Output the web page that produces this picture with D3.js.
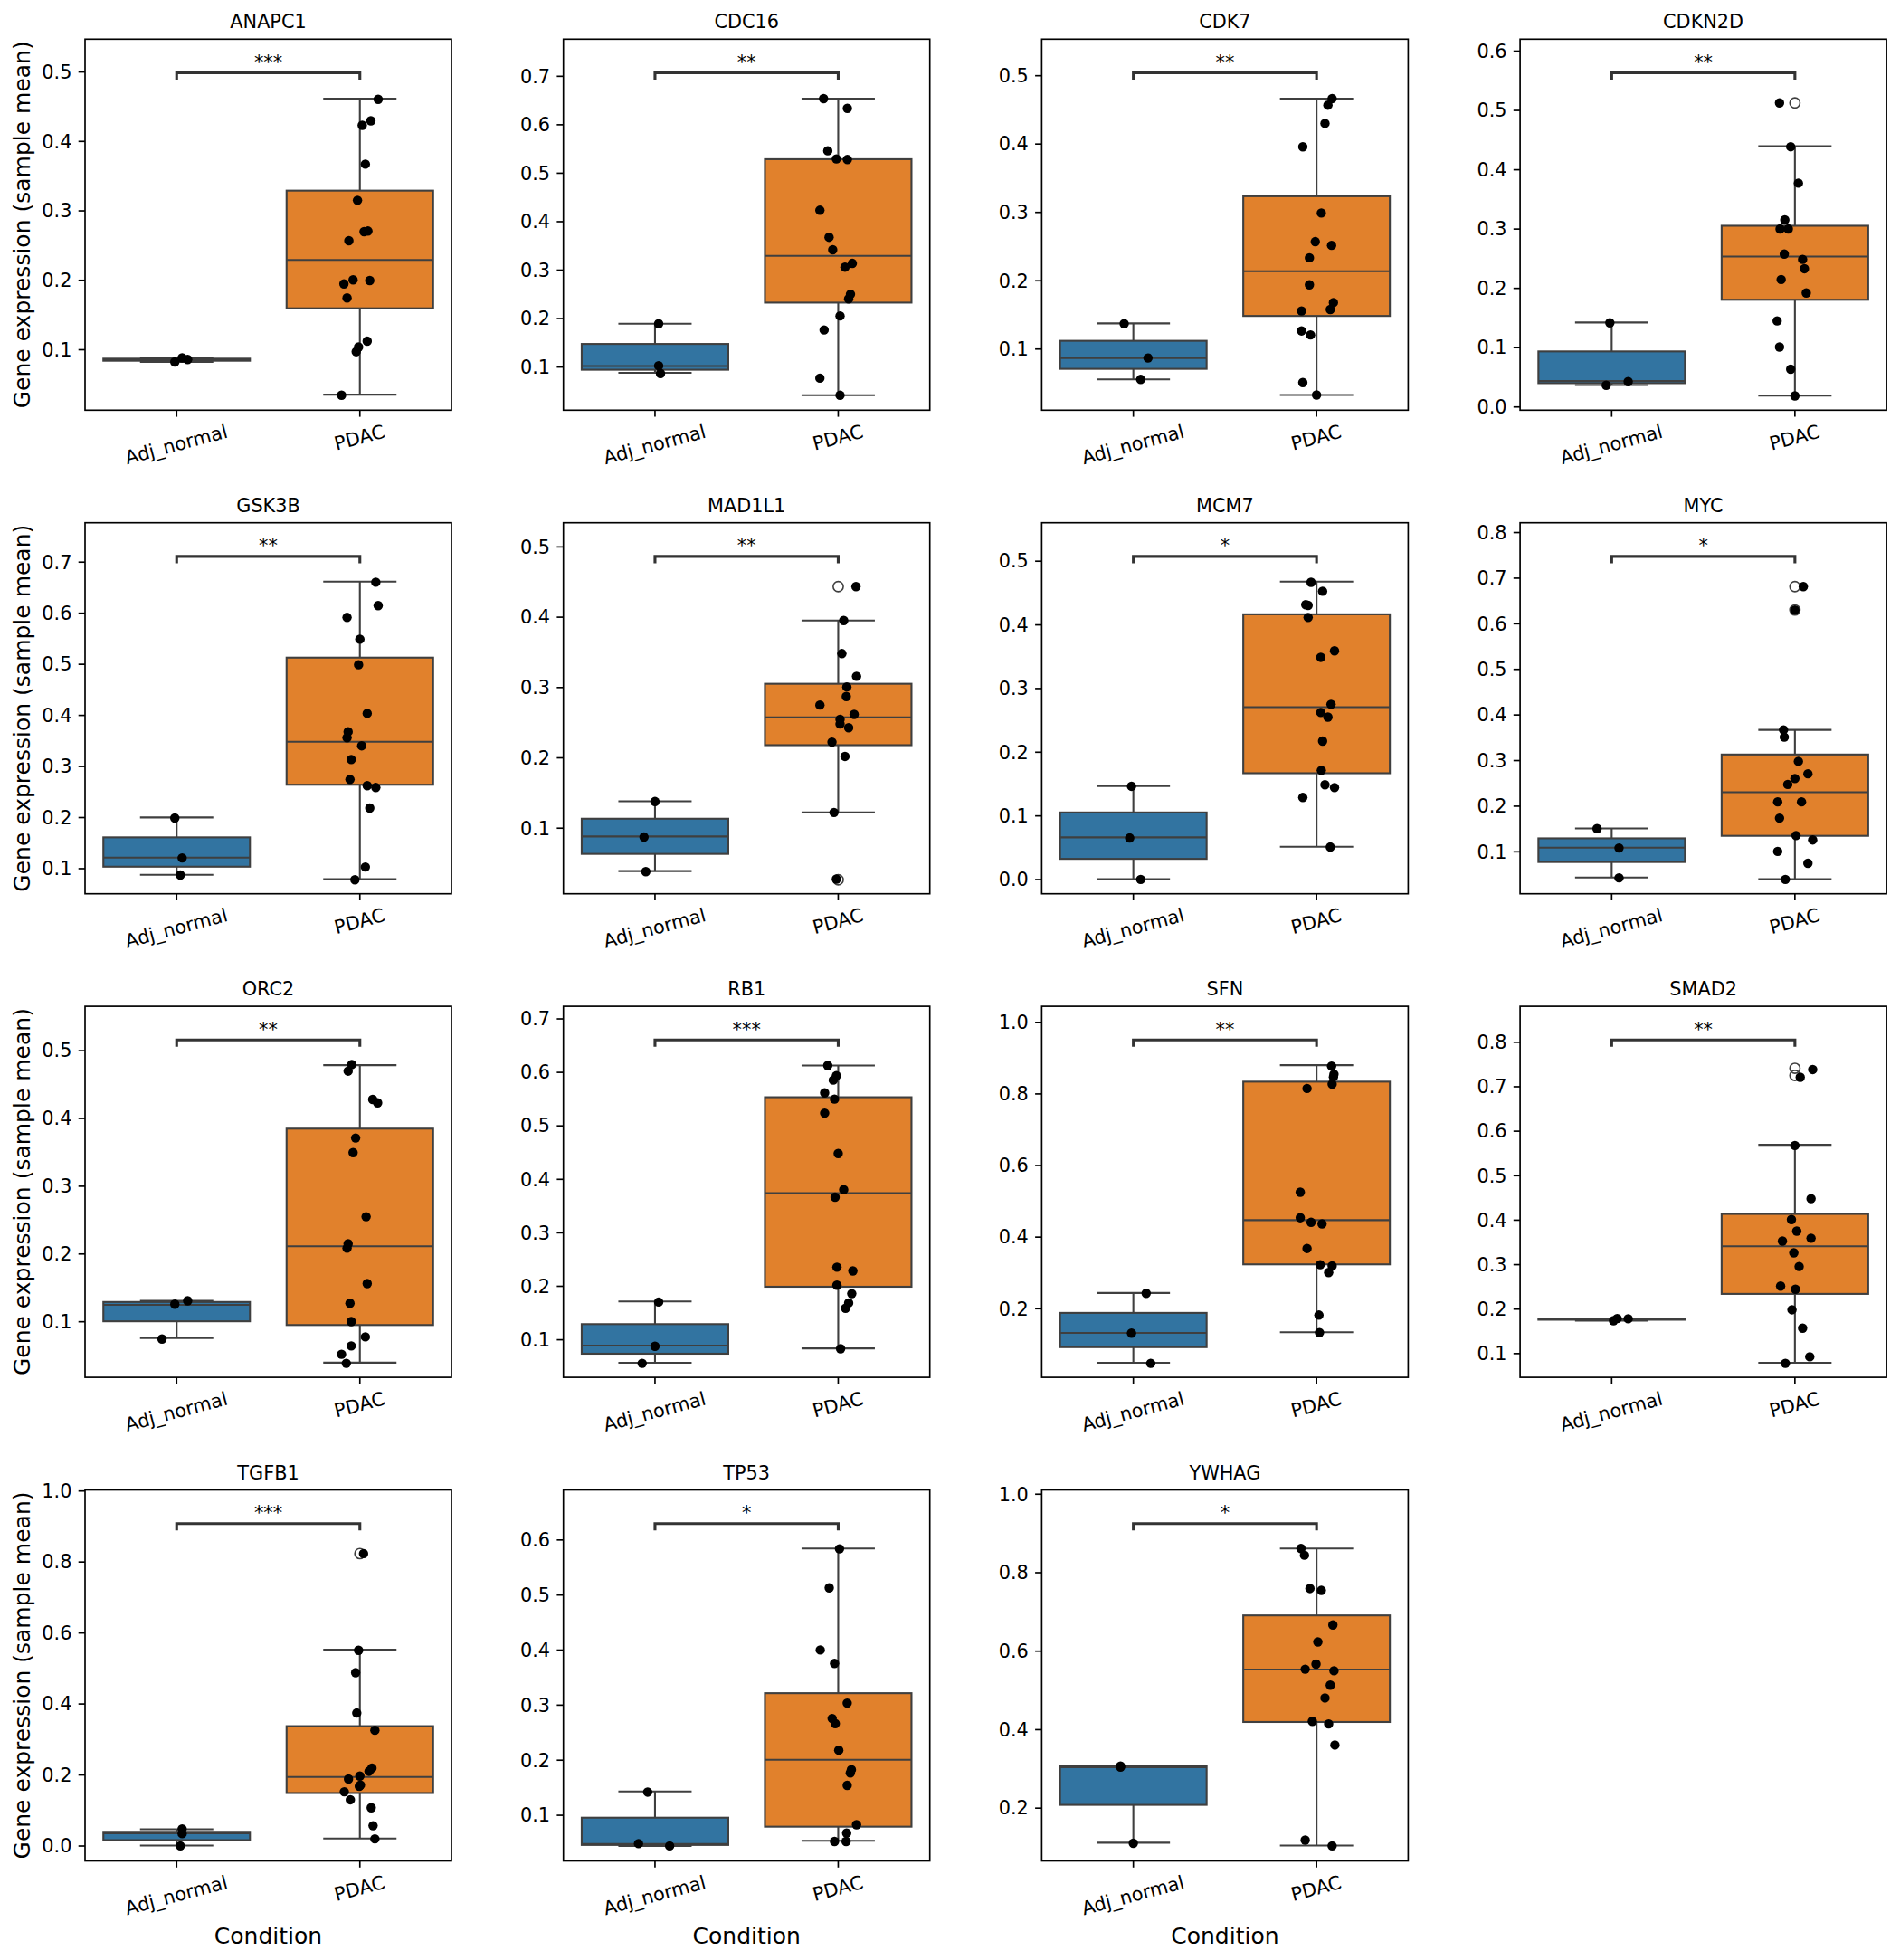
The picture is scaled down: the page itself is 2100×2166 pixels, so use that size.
<!DOCTYPE html>
<html>
<head>
<meta charset="utf-8">
<script src="https://cdn.jsdelivr.net/npm/d3@7/dist/d3.min.js"></script>
<style>
  body { margin: 0; background: #ffffff; }
  svg text { font-family: "DejaVu Sans", sans-serif; fill: #000; }
</style>
</head>
<body>
<div id="chart"></div>
<script>
// ---- data ----
const genes = ["ANAPC1", "CDC16", "CDK7", "CDKN2D", "GSK3B", "MAD1L1", "MCM7", "MYC",
               "ORC2", "RB1", "SFN", "SMAD2", "TGFB1", "TP53", "YWHAG"];
const groups = ["Adj_normal", "PDAC"];
const sigLabels = ["***", "**", "**", "**", "**", "**", "*", "*", "**", "***", "**", "**", "***", "*", "*"];

// y axis range of every panel [bottom, top]
const yDomains = [[0.0123, 0.5466], [0.0100, 0.7757], [0.0099, 0.5528], [-0.0062, 0.6194],
                  [0.050, 0.7762], [0.0061, 0.5337], [-0.023, 0.5597], [0.0070, 0.8205],
                  [0.0173, 0.5648], [0.0289, 0.7227], [0.007, 1.0435], [0.0456, 0.8798],
                  [-0.0433, 1.0018], [0.0163, 0.6901], [0.0644, 1.0098]];
const yTickStep = [0.1, 0.1, 0.1, 0.1, 0.1, 0.1, 0.1, 0.1, 0.1, 0.1, 0.2, 0.1, 0.2, 0.1, 0.2];

// box stats: [whisker low, q1, median, q3, whisker high]
const normalBox = [[0.0817, 0.0835, 0.0853, 0.0865, 0.0876], [0.0871, 0.0935, 0.1012, 0.1467, 0.1885],
                   [0.0549, 0.0704, 0.0863, 0.1114, 0.1369], [0.0363, 0.0394, 0.0431, 0.0929, 0.1417],
                   [0.0872, 0.1030, 0.1207, 0.1604, 0.1994], [0.0384, 0.0628, 0.0876, 0.1128, 0.1377],
                   [0.0000, 0.0318, 0.0656, 0.1047, 0.1463], [0.0425, 0.0766, 0.1081, 0.1285, 0.1504],
                   [0.0752, 0.1000, 0.1243, 0.1285, 0.1303], [0.0562, 0.0731, 0.0882, 0.1284, 0.1709],
                   [0.0478, 0.0913, 0.1313, 0.1870, 0.2426], [0.1730, 0.1751, 0.1772, 0.1775, 0.1778],
                   [0.0000, 0.0153, 0.0343, 0.0388, 0.0460], [0.0436, 0.0453, 0.0471, 0.0948, 0.1424],
                   [0.1109, 0.2072, 0.3034, 0.3059, 0.3059]];
const pdacBox = [[0.0347, 0.1590, 0.2286, 0.3285, 0.4610], [0.0408, 0.2320, 0.3284, 0.5280, 0.6530],
                 [0.0322, 0.1478, 0.2133, 0.3230, 0.4659], [0.0185, 0.1800, 0.2529, 0.3048, 0.4390],
                 [0.0787, 0.2634, 0.3476, 0.5122, 0.6610], [0.1217, 0.2174, 0.2568, 0.3047, 0.3946],
                 [0.0509, 0.1663, 0.2700, 0.4159, 0.4672], [0.0390, 0.1340, 0.2296, 0.3123, 0.3663],
                 [0.0389, 0.0945, 0.2107, 0.3843, 0.4780], [0.0830, 0.1983, 0.3735, 0.5527, 0.6121],
                 [0.1330, 0.3226, 0.4461, 0.8330, 0.8791], [0.0785, 0.2332, 0.3402, 0.4130, 0.5684],
                 [0.0198, 0.1479, 0.1930, 0.3363, 0.5518], [0.0529, 0.0785, 0.2000, 0.3209, 0.5837],
                 [0.1036, 0.4184, 0.5522, 0.6900, 0.8605]];
const pdacFliers = [[], [], [], [0.5119], [], [0.4429, 0.026], [], [0.6805, 0.6292],
                    [], [], [], [0.7405, 0.7244], [0.8224], [], []];

// strip points: [value, jitter in category widths]
const normalPoints = [
  [[0.0817, -0.01], [0.0876, 0.03], [0.0853, 0.06]],
  [[0.1885, 0.02], [0.1018, 0.02], [0.0858, 0.03]],
  [[0.1364, -0.05], [0.0863, 0.08], [0.0549, 0.04]],
  [[0.1412, -0.01], [0.0420, 0.09], [0.0358, -0.03]],
  [[0.1982, -0.01], [0.1201, 0.03], [0.0866, 0.02]],
  [[0.1372, 0.00], [0.0867, -0.06], [0.0375, -0.05]],
  [[0.1458, -0.01], [0.0646, -0.02], [-0.0005, 0.04]],
  [[0.1497, -0.08], [0.1074, 0.04], [0.0418, 0.04]],
  [[0.1303, 0.06], [0.1253, -0.01], [0.0738, -0.08]],
  [[0.1697, 0.02], [0.0871, 0.00], [0.0551, -0.07]],
  [[0.2417, 0.07], [0.1304, -0.01], [0.0460, 0.095]],
  [[0.1730, 0.01], [0.1778, 0.03], [0.1772, 0.09]],
  [[0.0469, 0.03], [0.0334, 0.03], [-0.0009, 0.02]],
  [[0.1413, -0.04], [0.0477, -0.09], [0.0436, 0.08]],
  [[0.3059, -0.07], [0.3034, -0.07], [0.1093, 0.00]]
];
const pdacPoints = [
  [[0.460, 0.10], [0.429, 0.06], [0.4225, 0.013], [0.3666, 0.03], [0.3146, -0.013], [0.2694, 0.023],
   [0.2703, 0.044], [0.2564, -0.06], [0.2000, -0.037], [0.1991, 0.054], [0.1941, -0.087], [0.1740, -0.07],
   [0.1117, 0.04], [0.1032, -0.007], [0.0965, -0.02], [0.0338, -0.10]],
  [[0.653, -0.08], [0.633, 0.05], [0.5453, -0.057], [0.5286, -0.01], [0.5273, 0.05], [0.4227, -0.10],
   [0.3669, -0.05], [0.3412, -0.03], [0.3130, 0.077], [0.3053, 0.037], [0.2494, 0.067], [0.2398, 0.057],
   [0.2045, 0.01], [0.1756, -0.077], [0.0761, -0.10], [0.0408, 0.01]],
  [[0.4659, 0.085], [0.4563, 0.062], [0.4295, 0.046], [0.3953, -0.075], [0.2984, 0.026], [0.2565, -0.007],
   [0.2511, 0.082], [0.2329, -0.039], [0.1933, -0.039], [0.1673, 0.092], [0.1573, 0.075], [0.1551, -0.082],
   [0.1259, -0.082], [0.1200, -0.033], [0.0504, -0.075], [0.0322, 0.00]],
  [[0.5119, -0.084], [0.438, -0.023], [0.3766, 0.019], [0.3147, -0.055], [0.2995, -0.081], [0.2995, -0.036],
   [0.2571, -0.058], [0.2481, 0.042], [0.2324, 0.052], [0.2141, -0.075], [0.1915, 0.062], [0.1443, -0.097],
   [0.1003, -0.084], [0.0630, -0.023], [0.0179, 0.00]],
  [[0.6598, 0.087], [0.614, 0.10], [0.5909, -0.07], [0.5482, 0.00], [0.4982, -0.007], [0.4030, 0.04],
   [0.3671, -0.064], [0.3555, -0.07], [0.3396, 0.01], [0.3128, -0.047], [0.2738, -0.054], [0.2616, 0.04],
   [0.2579, 0.087], [0.2177, 0.054], [0.1024, 0.03], [0.0774, -0.027]],
  [[0.4429, 0.097], [0.3946, 0.03], [0.3476, 0.02], [0.3153, 0.10], [0.3002, 0.047], [0.2865, 0.044],
   [0.2745, -0.10], [0.2612, 0.087], [0.2542, 0.01], [0.2475, 0.01], [0.2422, 0.057], [0.2218, -0.034],
   [0.2014, 0.037], [0.1217, -0.023], [0.0269, -0.01]],
  [[0.4662, -0.03], [0.4521, 0.033], [0.431, -0.059], [0.430, -0.046], [0.411, -0.046], [0.3586, 0.098],
   [0.3483, 0.023], [0.2745, 0.079], [0.2617, 0.023], [0.2544, 0.062], [0.2167, 0.033], [0.1708, 0.026],
   [0.1482, 0.046], [0.1438, 0.098], [0.1282, -0.075], [0.0504, 0.075]],
  [[0.6805, 0.046], [0.6292, 0.00], [0.3663, -0.062], [0.3505, -0.058], [0.2973, 0.019], [0.2700, 0.071],
   [0.2597, 0.00], [0.2467, -0.039], [0.2085, -0.094], [0.2085, 0.036], [0.1729, -0.084], [0.1347, 0.006],
   [0.1251, 0.097], [0.0999, -0.094], [0.0739, 0.071], [0.0384, -0.052]],
  [[0.4789, -0.044], [0.4692, -0.064], [0.4274, 0.07], [0.4224, 0.097], [0.3705, -0.023], [0.3489, -0.037],
   [0.2543, 0.034], [0.2144, -0.064], [0.2079, -0.07], [0.1556, 0.04], [0.1266, -0.054], [0.0996, -0.047],
   [0.0770, 0.03], [0.0637, -0.047], [0.0513, -0.10], [0.0380, -0.074]],
  [[0.6121, -0.057], [0.5929, -0.01], [0.5847, -0.027], [0.5609, -0.074], [0.5492, -0.02], [0.5230, -0.074],
   [0.4474, 0.00], [0.3799, 0.03], [0.3659, -0.017], [0.2349, -0.007], [0.2279, 0.08], [0.2012, -0.007],
   [0.1854, 0.074], [0.1680, 0.057], [0.1581, 0.04], [0.0824, 0.013]],
  [[0.8765, 0.082], [0.8539, 0.095], [0.8461, 0.092], [0.8261, 0.085], [0.8139, -0.052], [0.5243, -0.089],
   [0.4530, -0.089], [0.4400, -0.03], [0.4357, 0.03], [0.3670, -0.052], [0.3217, 0.02], [0.3183, 0.085],
   [0.3000, 0.066], [0.1809, 0.013], [0.1322, 0.016]],
  [[0.7377, 0.097], [0.7202, 0.029], [0.5670, 0.00], [0.4473, 0.088], [0.4004, -0.019], [0.3745, 0.01],
   [0.3521, -0.068], [0.3584, 0.088], [0.3256, -0.006], [0.2947, 0.023], [0.2507, -0.078], [0.2437, 0.003],
   [0.1975, -0.016], [0.1562, 0.042], [0.0918, 0.081], [0.0771, -0.052]],
  [[0.8224, 0.02], [0.5500, -0.007], [0.4869, -0.023], [0.3733, -0.017], [0.3246, 0.082], [0.2182, 0.066],
   [0.2092, 0.05], [0.1957, 0.00], [0.1875, -0.062], [0.1668, -0.003], [0.1704, 0.003], [0.1515, -0.085],
   [0.1289, -0.052], [0.1064, 0.062], [0.0559, 0.072], [0.0189, 0.082]],
  [[0.5831, 0.007], [0.5122, -0.049], [0.3994, -0.098], [0.3750, -0.02], [0.3029, 0.049], [0.2750, -0.033],
   [0.2657, -0.016], [0.2174, 0.003], [0.1820, 0.072], [0.1762, 0.066], [0.1535, 0.049], [0.0820, 0.10],
   [0.0669, 0.046], [0.0517, -0.02], [0.0517, 0.043]],
  [[0.8605, -0.085], [0.8434, -0.066], [0.7586, -0.036], [0.7537, 0.026], [0.6656, 0.089], [0.6223, 0.007],
   [0.5660, -0.003], [0.5530, -0.062], [0.5489, 0.095], [0.5122, 0.075], [0.4796, 0.046], [0.4200, -0.023],
   [0.4135, 0.066], [0.3597, 0.10], [0.1175, -0.062], [0.1028, 0.085]]
];

const boxColors = ["#3274a1", "#e1812c"];

// ---- layout ----
const figW = 2100, figH = 2166;
const nCols = 4;
const left0 = 94, colStep = 528.7, top0 = 43.3, rowStep = 534.4;
const panelW = 405, panelH = 410;
const tickFont = 20.8, labelFont = 25;
const lineGray = "#3f3f3f";

const svg = d3.select("#chart").append("svg")
    .attr("width", figW)
    .attr("height", figH)
    .style("display", "block");

class GenePanel {
    constructor(svg, idx) {
        this.svg = svg;
        this.idx = idx;
        this.render();
    }

    render() {
        let vis = this;
        let i = vis.idx;
        let row = Math.floor(i / nCols), col = i % nCols;
        let lastRow = Math.floor((genes.length - 1) / nCols);

        vis.g = vis.svg.append("g")
            .attr("transform", `translate(${left0 + col * colStep}, ${top0 + row * rowStep})`);

        vis.x = d3.scaleBand().domain(groups).range([0, panelW]).padding(0);
        vis.y = d3.scaleLinear().domain(yDomains[i]).range([panelH, 0]);
        let bw = vis.x.bandwidth();
        let cx = grp => vis.x(grp) + bw / 2;

        // y axis
        let step = yTickStep[i];
        let lo = yDomains[i][0], hi = yDomains[i][1];
        let ticks = d3.range(Math.ceil(lo / step - 1e-6), Math.floor(hi / step + 1e-6) + 1).map(k => +(k * step).toFixed(2));
        let yAxis = d3.axisLeft(vis.y).tickValues(ticks).tickFormat(d3.format(".1f"))
            .tickSize(7.3).tickPadding(7.3).tickSizeOuter(0);
        let ya = vis.g.append("g").attr("class", "y-axis").call(yAxis);
        ya.select(".domain").remove();
        ya.selectAll(".tick line").attr("stroke", "#000").attr("stroke-width", 1.67);
        ya.selectAll(".tick text").style("font-size", tickFont + "px").attr("dy", "0.35em");

        // x axis
        let xAxis = d3.axisBottom(vis.x).tickSize(7.3).tickSizeOuter(0);
        let xa = vis.g.append("g").attr("class", "x-axis")
            .attr("transform", `translate(0, ${panelH})`).call(xAxis);
        xa.select(".domain").remove();
        xa.selectAll(".tick line").attr("stroke", "#000").attr("stroke-width", 1.67);
        let ang = 15 * Math.PI / 180;
        xa.selectAll(".tick text")
            .style("font-size", tickFont + "px")
            .attr("text-anchor", "middle")
            .attr("y", 0)
            .attr("dy", "0.26em")
            .each(function() {
                let w = this.getComputedTextLength();
                let half = (w * Math.sin(ang) + tickFont * Math.cos(ang)) / 2;
                d3.select(this).attr("transform", `translate(0, ${14.6 + half}) rotate(-15)`);
            });

        // boxes
        let boxes = [normalBox[i], pdacBox[i]];
        boxes.forEach((b, k) => {
            let c = cx(groups[k]);
            let bg = vis.g.append("g").attr("class", "box");
            // whiskers
            bg.append("line").attr("x1", c).attr("x2", c).attr("y1", vis.y(b[0])).attr("y2", vis.y(b[1]));
            bg.append("line").attr("x1", c).attr("x2", c).attr("y1", vis.y(b[3])).attr("y2", vis.y(b[4]));
            bg.append("line").attr("x1", c - 0.2 * bw).attr("x2", c + 0.2 * bw).attr("y1", vis.y(b[0])).attr("y2", vis.y(b[0]));
            bg.append("line").attr("x1", c - 0.2 * bw).attr("x2", c + 0.2 * bw).attr("y1", vis.y(b[4])).attr("y2", vis.y(b[4]));
            bg.append("rect")
                .attr("x", c - 0.4 * bw)
                .attr("y", vis.y(b[3]))
                .attr("width", 0.8 * bw)
                .attr("height", Math.max(0.01, vis.y(b[1]) - vis.y(b[3])))
                .attr("fill", boxColors[k])
                .attr("stroke", lineGray)
                .attr("stroke-width", 2.1);
            bg.append("line").attr("x1", c - 0.4 * bw).attr("x2", c + 0.4 * bw).attr("y1", vis.y(b[2])).attr("y2", vis.y(b[2]));
            bg.selectAll("line").attr("stroke", lineGray).attr("stroke-width", 2.1);
        });

        // fliers (hollow circles at category centre)
        vis.g.selectAll(".flier")
            .data(pdacFliers[i])
            .enter().append("circle")
            .attr("class", "flier")
            .attr("cx", cx("PDAC"))
            .attr("cy", d => vis.y(d))
            .attr("r", 5.6)
            .attr("fill", "none")
            .attr("stroke", lineGray)
            .attr("stroke-width", 1.6);

        // strip points
        [normalPoints[i], pdacPoints[i]].forEach((pts, k) => {
            vis.g.selectAll(".pt-" + k)
                .data(pts)
                .enter().append("circle")
                .attr("class", "pt-" + k)
                .attr("cx", d => cx(groups[k]) + d[1] * bw)
                .attr("cy", d => vis.y(d[0]))
                .attr("r", 5.2)
                .attr("fill", "#000");
        });

        // frame
        vis.g.append("rect")
            .attr("width", panelW).attr("height", panelH)
            .attr("fill", "none").attr("stroke", "#000").attr("stroke-width", 1.67);

        // significance bracket
        let by = 37.2, tip = 7.5;
        let x1 = cx(groups[0]), x2 = cx(groups[1]);
        vis.g.append("path")
            .attr("d", `M${x1},${by + tip}L${x1},${by}L${x2},${by}L${x2},${by + tip}`)
            .attr("fill", "none")
            .attr("stroke", "#333333")
            .attr("stroke-width", 3.1);
        vis.g.append("text")
            .attr("x", (x1 + x2) / 2)
            .attr("y", 32.5)
            .attr("text-anchor", "middle")
            .style("font-size", tickFont + "px")
            .text(sigLabels[i]);

        // title
        vis.g.append("text")
            .attr("x", panelW / 2)
            .attr("y", -12)
            .attr("text-anchor", "middle")
            .style("font-size", tickFont + "px")
            .text(genes[i]);

        // axis labels
        if (col === 0) {
            vis.g.append("text")
                .attr("transform", `translate(${33 - left0}, ${panelH / 2}) rotate(-90)`)
                .attr("text-anchor", "middle")
                .style("font-size", labelFont + "px")
                .text("Gene expression (sample mean)");
        }
        if (row === lastRow) {
            vis.g.append("text")
                .attr("x", panelW / 2)
                .attr("y", panelH + 91)
                .attr("text-anchor", "middle")
                .style("font-size", labelFont + "px")
                .text("Condition");
        }
    }
}

genes.forEach((gene, i) => new GenePanel(svg, i));
</script>
</body>
</html>
